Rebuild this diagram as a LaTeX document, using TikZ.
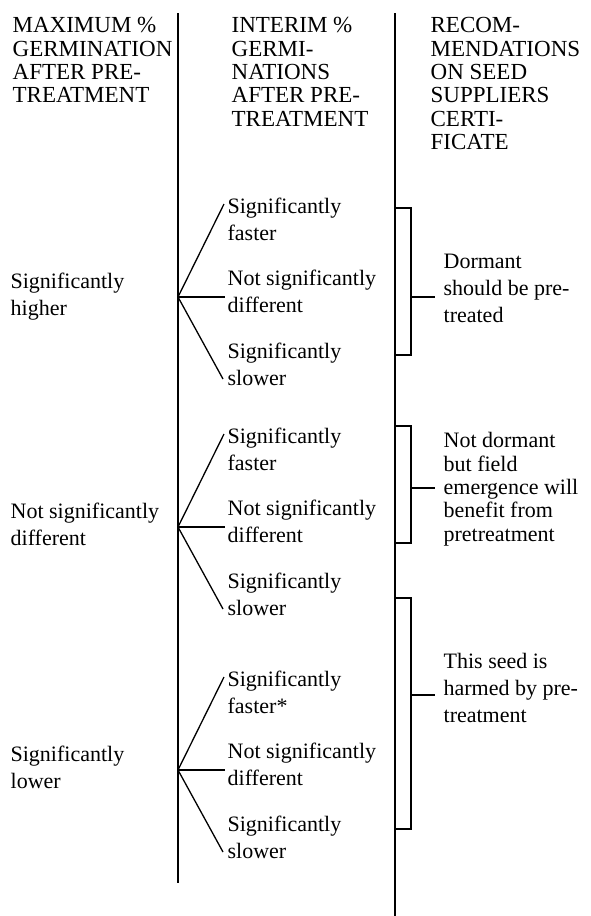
\documentclass[tikz,border=0pt]{standalone}
\usepackage{fontspec}
\setmainfont{Liberation Serif}
\newcommand{\tallrule}{\rule{0pt}{18pt}}

\begin{document}
\begin{tikzpicture}[x=1pt, y=-1pt, line width=1.3pt,
	txt/.style={anchor=north west, inner sep=0pt, align=left, font=\fontsize{22}{27}\selectfont},
	hdr/.style={txt, font=\fontsize{23}{23.4}\selectfont},
	tight/.style={txt, font=\fontsize{22}{23.4}\selectfont}]

	\useasboundingbox (0,0) rectangle (591,916);

	% column rules
	\draw (178,13) -- (178,883);
	\draw (395,13) -- (395,916);

	% headings
	\node[hdr] (h1) at (12,14) {\tallrule MAXIMUM \%\\GERMINATION\\AFTER PRE-\\TREATMENT};
	\node[hdr] (h2) at (231,14) {\tallrule INTERIM \%\\GERMI-\\NATIONS\\AFTER PRE-\\TREATMENT};
	\node[hdr] (h3) at (430,14) {\tallrule RECOM-\\MENDATIONS\\ON SEED\\SUPPLIERS\\CERTI-\\FICATE};

	% maximum germination
	\node[txt] (m1) at (10,270) {\tallrule Significantly\\higher};
	\node[txt] (m2) at (10,500) {\tallrule Not significantly\\different};
	\node[txt] (m3) at (10,743) {\tallrule Significantly\\lower};

	\coordinate (b1) at (178,297);
	\coordinate (b2) at (178,527);
	\coordinate (b3) at (178,770);

	% interim germination
	\node[txt] (f1) at (227,195) {\tallrule Significantly\\faster};
	\node[txt] (n1) at (227,267) {\tallrule Not significantly\\different};
	\node[txt] (s1) at (227,340) {\tallrule Significantly\\slower};

	\node[txt] (f2) at (227,425) {\tallrule Significantly\\faster};
	\node[txt] (n2) at (227,497) {\tallrule Not significantly\\different};
	\node[txt] (s2) at (227,570) {\tallrule Significantly\\slower};

	\node[txt] (f3) at (227,668) {\tallrule Significantly\\faster*};
	\node[txt] (n3) at (227,740) {\tallrule Not significantly\\different};
	\node[txt] (s3) at (227,813) {\tallrule Significantly\\slower};

	\draw (b1) -- ([shift={(-3,9)}]f1.north west);
	\draw (b1) -- ([shift={(-2,30)}]n1.north west);
	\draw (b1) -- ([shift={(-4,39)}]s1.north west);

	\draw (b2) -- ([shift={(-3,9)}]f2.north west);
	\draw (b2) -- ([shift={(-2,30)}]n2.north west);
	\draw (b2) -- ([shift={(-4,39)}]s2.north west);

	\draw (b3) -- ([shift={(-3,9)}]f3.north west);
	\draw (b3) -- ([shift={(-2,30)}]n3.north west);
	\draw (b3) -- ([shift={(-4,39)}]s3.north west);

	% recommendations
	\node[txt] (r1) at (443,250) {\tallrule Dormant\\should be pre-\\treated};
	\node[tight] (r2) at (443,429) {\tallrule Not dormant\\but field\\emergence will\\benefit from\\pretreatment};
	\node[txt] (r3) at (443,650) {\tallrule This seed is\\harmed by pre-\\treatment};

	\draw (396,208) -- (411,208) -- (411,355) -- (396,355);
	\draw (396,426) -- (411,426) -- (411,543) -- (396,543);
	\draw (396,598) -- (411,598) -- (411,829) -- (396,829);

	\coordinate (k1) at (411,297);
	\coordinate (k2) at (411,488);
	\coordinate (k3) at (411,695);

	\draw (k1) -- ([xshift=-8pt]k1 -| r1.west);
	\draw (k2) -- ([xshift=-8pt]k2 -| r2.west);
	\draw (k3) -- ([xshift=-8pt]k3 -| r3.west);

\end{tikzpicture}
\end{document}
